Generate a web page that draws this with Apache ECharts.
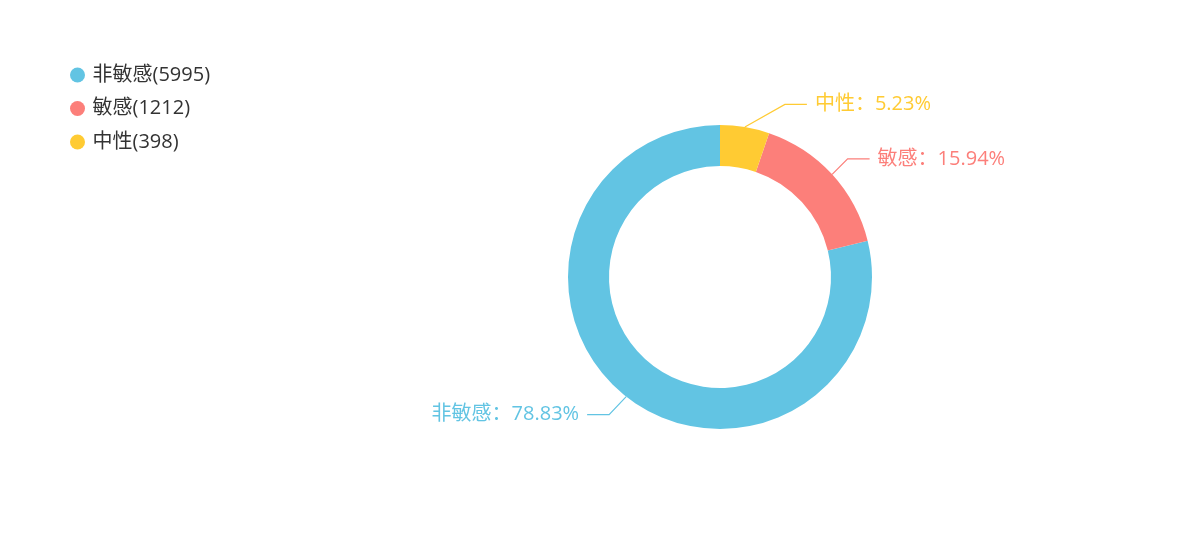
<!DOCTYPE html>
<html>
<head>
<meta charset="utf-8">
<script src="https://cdn.jsdelivr.net/npm/echarts@6/dist/echarts.min.js"></script>
<style>html,body{margin:0;padding:0;background:#fff}#c{width:1200px;height:554px}</style>
</head>
<body>
<div id="c"></div>
<script>
var categories = ['非敏感', '敏感', '中性'];
var values = [5995, 1212, 398];
var colors = ['#62c4e3', '#fc7f7a', '#ffcb33'];

var FONT = '"Open Sans", "Noto Sans CJK SC", sans-serif';
var CX = 720, CY = 277, INNER = 111, OUTER = 152, LEN = 23, LEN2 = 22, GAP = 8;

var data = categories.map(function (n, i) {
  return { name: n, value: values[i], itemStyle: { color: colors[i] }, label: { color: colors[i] } };
});
var chart = echarts.init(document.getElementById('c'));
chart.setOption({
  textStyle: { fontFamily: FONT },
  legend: {
    orient: 'vertical',
    left: 65,
    top: 60,
    icon: 'circle',
    itemWidth: 20,
    itemHeight: 15,
    itemGap: 13.5,
    data: categories,
    formatter: function (name) {
      return name + '(' + values[categories.indexOf(name)] + ')';
    },
    textStyle: { fontSize: 20, color: '#333', fontFamily: FONT }
  },
  series: [{
    type: 'pie',
    center: [CX, CY],
    radius: [INNER, OUTER],
    startAngle: 90,
    clockwise: false,
    avoidLabelOverlap: true,
    data: data,
    label: {
      formatter: '{b}：{d}%',
      fontSize: 20,
      fontFamily: FONT
    },
    labelLine: { length: LEN, length2: LEN2, lineStyle: { width: 1.2 } },
    labelLayout: function (p) {
      var lp = p.labelLinePoints;
      if (!lp) return {};
      var dir = lp[2][0] > CX ? 1 : -1;
      var y = lp[1][1];
      var dy = y - CY;
      var R = OUTER + LEN + LEN2;
      var tx = CX + dir * Math.sqrt(Math.max(R * R - dy * dy, 0));
      var end = tx - dir * GAP;
      var joint = end - dir * LEN2;
      return {
        x: tx,
        y: y,
        align: dir > 0 ? 'left' : 'right',
        verticalAlign: 'middle',
        labelLinePoints: [lp[0], [joint, y], [end, y]]
      };
    }
  }]
});
</script>
</body>
</html>
